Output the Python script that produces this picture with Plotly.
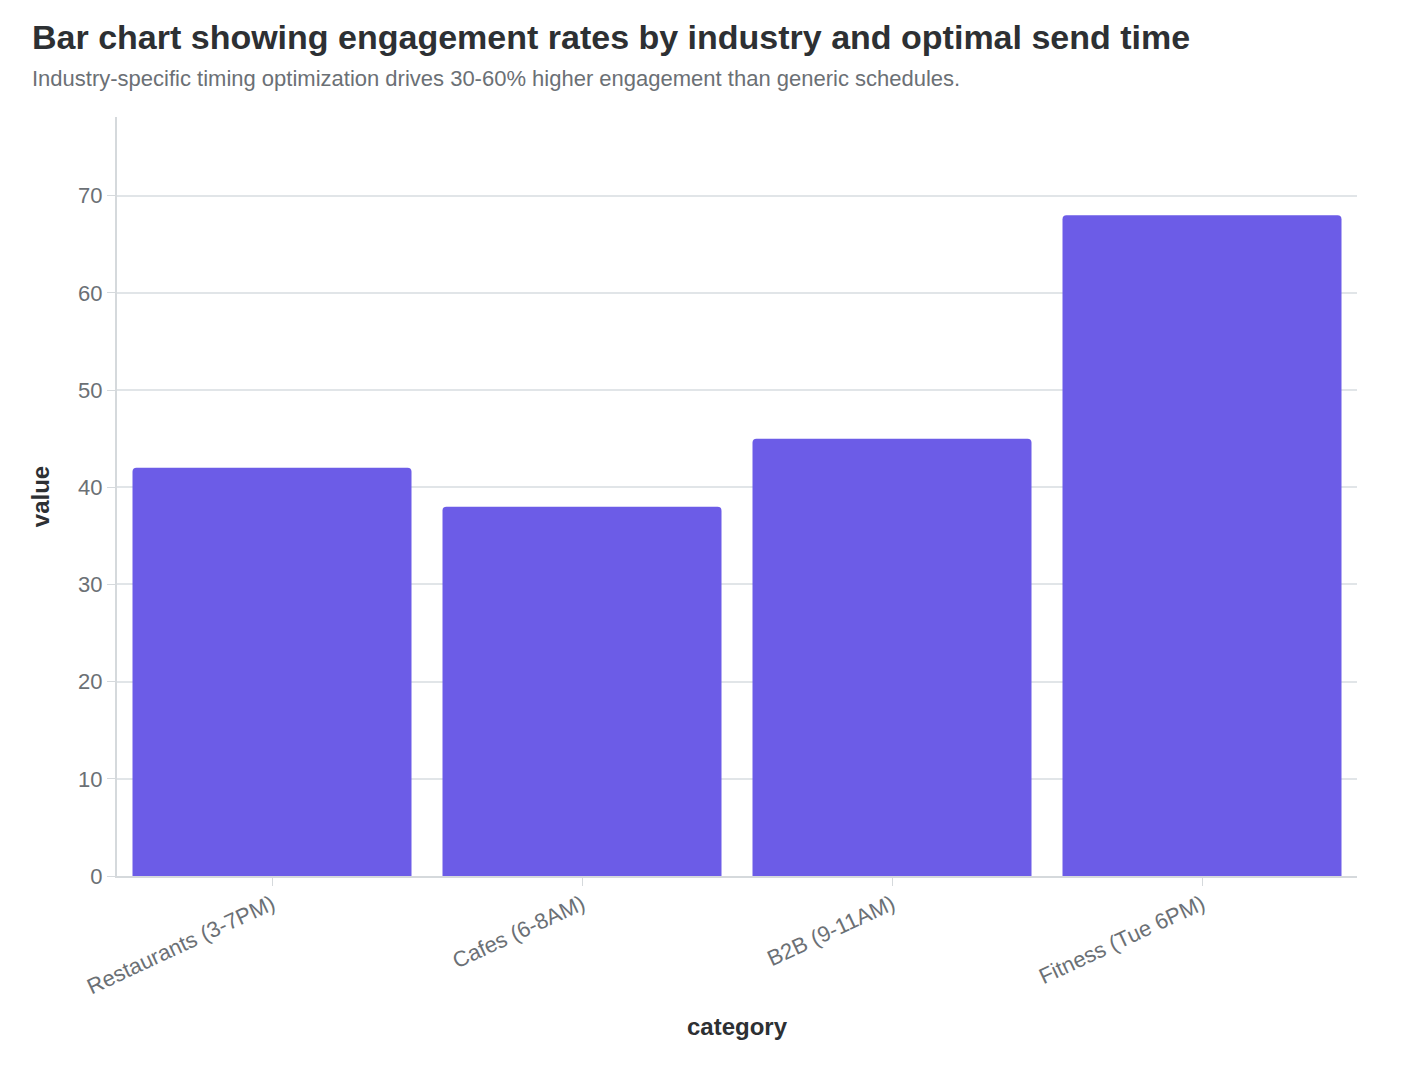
import plotly.graph_objects as go

categories = ["Restaurants (3-7PM)", "Cafes (6-8AM)", "B2B (9-11AM)", "Fitness (Tue 6PM)"]
values = [42, 38, 45, 68]

title_text = "Bar chart showing engagement rates by industry and optimal send time"
subtitle_text = "Industry-specific timing optimization drives 30-60% higher engagement than generic schedules."

FONT = "Liberation Sans, Arial, sans-serif"

W, H = 1390, 1054
L, R, T, B = 109, 41, 109, 186
PW, PH = W - L - R, H - T - B

fig = go.Figure(go.Bar(
    x=categories, y=values,
    marker=dict(color="#6C5CE7", cornerradius=4, line=dict(width=0)),
))

fig.update_layout(
    width=W, height=H,
    margin=dict(l=L, r=R, t=T, b=B),
    paper_bgcolor="white", plot_bgcolor="white",
    font=dict(family=FONT, color="#6b7075", size=22),
    bargap=0.1,
    showlegend=False,
    title=dict(text="<b>" + title_text + "</b>", x=24/W, xref="container", xanchor="left",
               y=1 - 29/H, yref="container", yanchor="middle",
               font=dict(family=FONT, size=34, color="#2d3033")),
    annotations=[dict(text=subtitle_text, xref="paper", yref="paper",
                      x=(22-L)/PW, y=1 + (T-70)/PH, xanchor="left", yanchor="middle",
                      showarrow=False, font=dict(family=FONT, size=22, color="#6b7075"))],
    xaxis=dict(
        title=dict(text="<b>category</b>", font=dict(size=24, color="#2d3033"), standoff=20),
        tickangle=-25, ticks="outside", ticklen=8, tickcolor="#d5d9dc",
        ticklabelstandoff=-3,
        showline=True, linecolor="#d5d9dc", linewidth=2, showgrid=False,
        tickfont=dict(size=22, color="#6b7075"),
    ),
    yaxis=dict(
        title=dict(text="<b>value</b>", font=dict(size=24, color="#2d3033"), standoff=22),
        range=[0, 78.1], dtick=10, ticks="outside", ticklen=8, tickcolor="#d5d9dc",
        showline=True, linecolor="#d5d9dc", linewidth=2,
        showgrid=True, gridcolor="#e1e5e8", gridwidth=1.5, zeroline=False,
        tickfont=dict(size=22, color="#6b7075"),
    ),
)

fig.write_html("out.html")
